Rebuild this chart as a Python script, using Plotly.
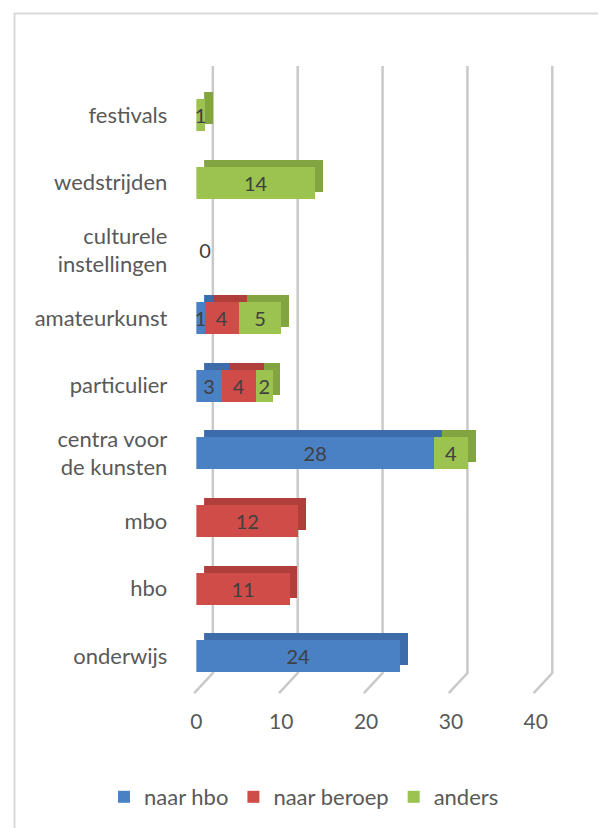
import plotly.graph_objects as go

# categories listed bottom to top
categories = ["onderwijs", "hbo", "mbo", "centra voor<br>de kunsten", "particulier",
              "amateurkunst", "culturele<br>instellingen", "wedstrijden", "festivals"]
naar_hbo = [24, None, None, 28, 3, 1, None, None, None]
naar_beroep = [None, 11, 12, None, 4, 4, None, None, None]
anders = [None, None, None, 4, 2, 5, 0, 14, 1]
x_ticks = [0, 10, 20, 30, 40]

series = [("naar hbo", naar_hbo, "#4a80c4", "#3d6cab"),
          ("naar beroep", naar_beroep, "#d04c49", "#b03e3b"),
          ("anders", anders, "#9cc24f", "#82a542")]

# page body has an 8px margin, so the figure is shrunk and coordinates shifted
OFF = 8
W, H = 606 - OFF, 828 - OFF
def xd(a, b): return [(a - OFF) / W, (b - OFF) / W]
def yd(top, bottom): return [1 - (bottom - OFF) / H, 1 - (top - OFF) / H]

U = 8.75            # px per value unit
WALL_H = 673 - 66   # px height of the back wall
dx, dy = 2.2, 0.033  # floor diagonal, in back-wall units

fig = go.Figure()

# back wall: vertical gridlines plus the little floor diagonals, on x/y
gx, gy = [], []
for v in x_ticks:
    gx += [v, v, v - dx, None]
    gy += [1, 0, -dy, None]
fig.add_trace(go.Scatter(x=gx, y=gy, mode="lines", showlegend=False, hoverinfo="skip",
                         line=dict(color="#c9c9c9", width=2.5),
                         xaxis="x", yaxis="y"))

# depth faces on x2/y2
for name, vals, col, dark in series:
    fig.add_trace(go.Bar(x=vals, y=categories, orientation="h", marker_color=dark,
                         marker_line_width=0, showlegend=False, hoverinfo="skip",
                         xaxis="x2", yaxis="y2"))

# front faces on x3/y3
for name, vals, col, dark in series:
    pos = ["outside" if v == 0 else "inside" for v in vals]
    fig.add_trace(go.Bar(x=vals, y=categories, orientation="h", name=name,
                         marker_color=col, marker_line_width=0,
                         text=[("" if v is None else str(v)) for v in vals],
                         textposition=pos, insidetextanchor="middle",
                         textfont=dict(color="#404040", size=20),
                         constraintext="none", cliponaxis=False,
                         xaxis="x3", yaxis="y3"))

font = dict(family="Lato, Noto Sans, sans-serif", size=22, color="#595959")
xlo, ylo = -2.6, -0.04
fig.update_layout(
    width=W, height=H,
    margin=dict(l=0, r=0, t=0, b=0),
    paper_bgcolor="white", plot_bgcolor="rgba(0,0,0,0)",
    barmode="stack", bargap=0.527,
    font=font,
    uniformtext=dict(minsize=20, mode="show"),
    xaxis=dict(domain=xd(213 + xlo * U, 563 + 0.5 * U), range=[xlo, 40.5],
               showgrid=False, showticklabels=False, zeroline=False, anchor="y"),
    yaxis=dict(domain=yd(60, 673 - ylo * WALL_H), range=[ylo, 1 + 6 / WALL_H],
               showgrid=False, showticklabels=False, zeroline=False, anchor="x"),
    xaxis2=dict(domain=xd(204, 554), range=[0, 40], showgrid=False,
                showticklabels=False, zeroline=False, anchor="y2"),
    yaxis2=dict(domain=yd(74, 683), categoryorder="array", categoryarray=categories,
                range=[-0.5, 8.5], showgrid=False, showticklabels=False,
                zeroline=False, anchor="x2"),
    xaxis3=dict(domain=xd(196, 546), range=[0, 40], tickvals=x_ticks, showgrid=False,
                zeroline=False, ticks="", ticklabelstandoff=17, anchor="y3",
                tickfont=dict(size=21)),
    yaxis3=dict(domain=yd(81, 690), categoryorder="array", categoryarray=categories,
                range=[-0.5, 8.5], showgrid=False, zeroline=False, ticks="",
                ticklabelstandoff=28, anchor="x3"),
    legend=dict(orientation="h", x=0.5, xanchor="center", y=1 - (797 - OFF) / H,
                yanchor="middle", font=font, traceorder="normal"),
    shapes=[dict(type="rect", xref="paper", yref="paper", x0=0.5 / W, y0=-0.05,
                 x1=1.05, y1=1 - 5.5 / H, line=dict(color="#d9d9d9", width=2),
                 layer="below")],
)

fig.write_html("out.html")
